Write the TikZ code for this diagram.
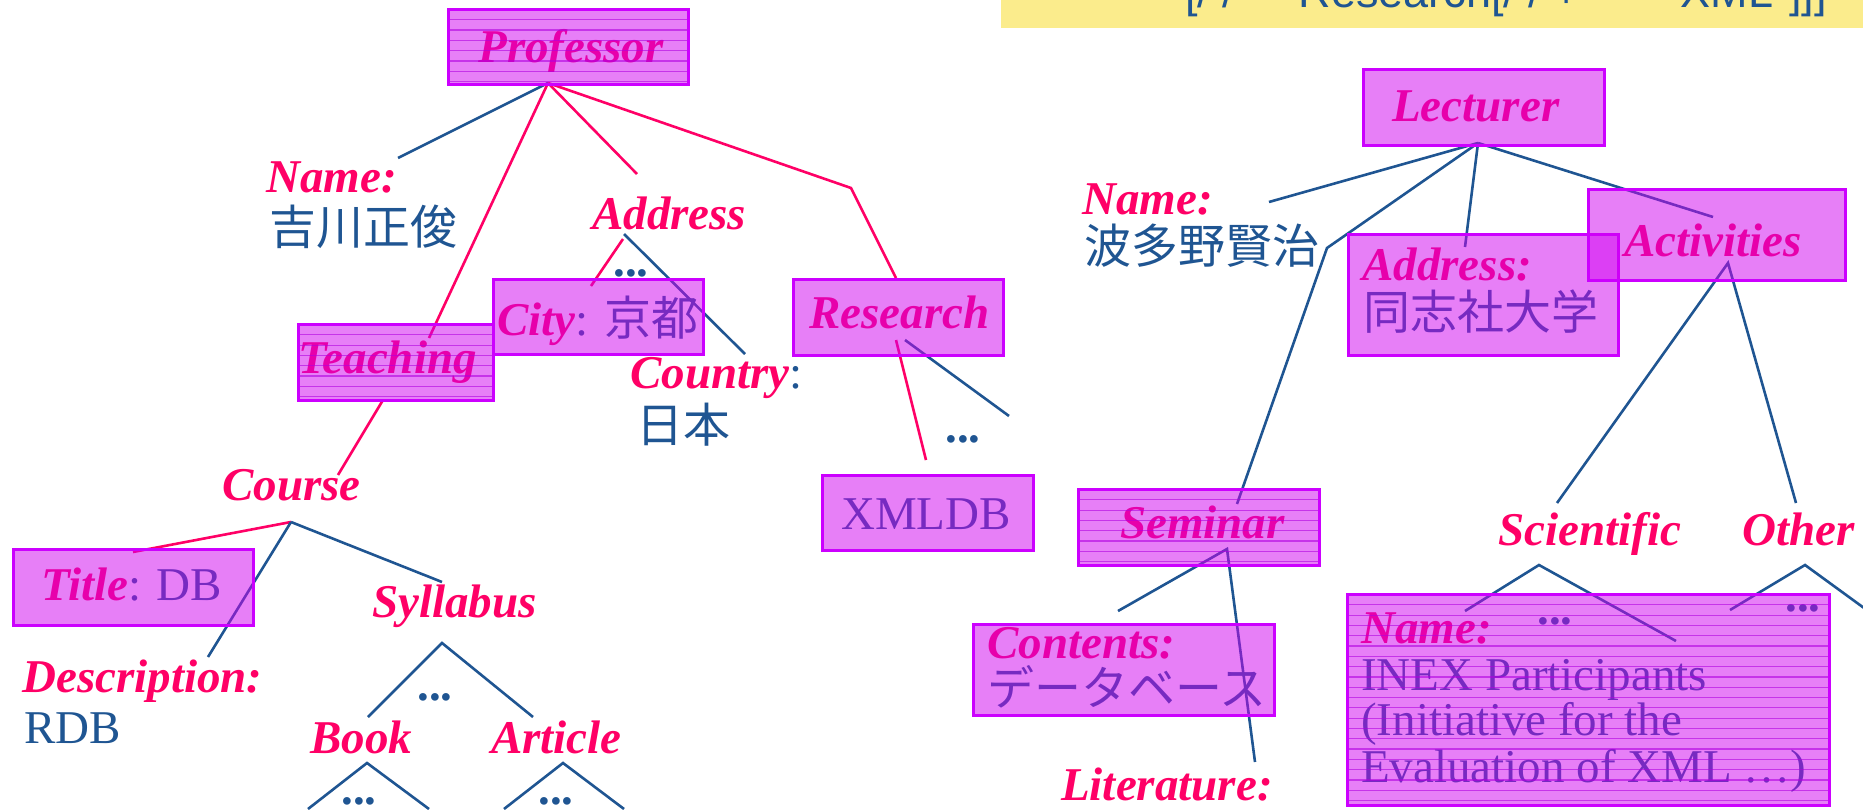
\documentclass[tikz,border=0pt]{standalone}
\usepackage{fontspec}
\setmainfont{Liberation Serif}
\newfontfamily\cjk{Noto Sans CJK JP}
\newfontfamily\arialf{Liberation Sans}
\usetikzlibrary{calc}
\definecolor{lpink}{HTML}{FF0066}
\definecolor{vblue}{HTML}{1F5592}
\definecolor{boxfill}{HTML}{D000F0}
\definecolor{boxline}{HTML}{CC00FF}
\definecolor{hlcol}{HTML}{B000E0}
\definecolor{yel}{HTML}{FBEC8C}
\newcommand{\mylab}[1]{{\color{lpink}\bfseries\itshape #1}}
\newcommand{\myval}[1]{{\color{vblue}#1}}
\begin{document}
\begin{tikzpicture}[x=1pt,y=-1pt,
  txt/.style={inner sep=0pt, anchor=base west, font=\fontsize{47}{46}\selectfont},
  dots/.style={inner sep=0pt, anchor=base, font=\fontsize{47}{46}\selectfont\bfseries, text=vblue},
  bl/.style={draw=vblue, line width=2.6pt},
  pk/.style={draw=lpink, line width=2.6pt},
  box/.style={draw=boxline, line width=3pt, fill=boxfill, fill opacity=0.5, draw opacity=1, inner sep=0pt, anchor=north west},
  hl/.style={path picture={
    \foreach \k in {1,...,21}{
      \draw[hlcol, line width=1.2pt, draw opacity=0.6]
        ([yshift=-\k*10.3pt]path picture bounding box.north west) -- ([yshift=-\k*10.3pt]path picture bounding box.north east);
    }}},
]
\useasboundingbox (0,0) rectangle (1863,810);
\clip (0,0) rectangle (1863,810);

% query strip (cut off at the top edge)
\node[fill=yel, anchor=north west, minimum width=870, minimum height=33, inner sep=0pt] (query) at (1001,-5) {};
\node[inner sep=0pt, anchor=base west, font=\arialf\fontsize{45}{45}\selectfont, text=vblue] (qtext) at (1185,8) {[/ /* *"Research[/ / +\hspace{67pt}*"XML"]]]};

% ---------- left tree texts ----------
\node[txt, anchor=base] (tprof) at (571,63) {\mylab{Professor}};
\node[txt] (tname) at (266,193) {\mylab{Name:}};
\node[txt] (vname) at (269,245) {\myval{\cjk 吉川正俊}};
\node[txt] (taddr) at (592,230) {\mylab{Address}};
\node[dots] (d1) at (631,277) {...};
\node[txt] (tcity) at (497,335) {\mylab{City}\myval{: {\cjk 京都}}};
\node[txt] (tteach) at (298,373) {\mylab{Teaching}};
\node[txt] (tcountry) at (630,388) {\mylab{Country}\myval{:}};
\node[txt] (vcountry) at (636,442) {\myval{\cjk 日本}};
\node[txt] (tres) at (809,328) {\mylab{Research}};
\node[dots] (d2) at (963,442) {...};
\node[txt, anchor=base] (txml) at (926,529) {\myval{XMLDB}};
\node[txt] (tcourse) at (222,500) {\mylab{Course}};
\node[txt] (ttitle) at (41,600) {\mylab{Title}\myval{: DB}};
\node[txt] (tdesc) at (22,692) {\mylab{Description:}};
\node[txt] (vdesc) at (24,743) {\myval{RDB}};
\node[txt] (tsyl) at (372,617) {\mylab{Syllabus}};
\node[dots] (d3) at (435,700) {...};
\node[txt] (tbook) at (310,753) {\mylab{Book}};
\node[txt] (tart) at (491,753) {\mylab{Article}};
\node[dots] (d4) at (359,804) {...};
\node[dots] (d5) at (556,804) {...};

% ---------- right tree texts ----------
\node[txt] (tlect) at (1392,122) {\mylab{Lecturer}};
\node[txt] (tname2) at (1082,215) {\mylab{Name:}};
\node[txt] (vname2) at (1084,264) {\myval{\cjk 波多野賢治}};
\node[txt] (taddr2) at (1362,280) {\mylab{Address:}};
\node[txt] (vaddr2) at (1363,329) {\myval{\cjk 同志社大学}};
\node[txt] (tact) at (1624,257) {\mylab{Activities}};
\node[txt] (tsem) at (1120,538) {\mylab{Seminar}};
\node[txt] (tcont) at (987,658) {\mylab{Contents:}};
\node[txt] (vcont) at (987,705) {\myval{\cjk データベース}};
\node[txt] (tlit) at (1061,800) {\mylab{Literature:}};
\node[txt] (tsci) at (1498,545) {\mylab{Scientific}};
\node[txt] (toth) at (1742,545) {\mylab{Other}};
\node[txt] (tname3) at (1361,643) {\mylab{Name:}};
\node[dots] (d6) at (1555,624) {...};
\node[dots] (d7) at (1803,611) {...};
\node[txt] (vinex1) at (1361,690) {\myval{INEX Participants}};
\node[txt] (vinex2) at (1361,735) {\myval{(Initiative for the}};
\node[txt] (vinex3) at (1361,782) {\myval{Evaluation of XML \dots)}};

% ---------- connector points ----------
\coordinate (p0) at (548,83);
\coordinate (pName) at (398,158);
\coordinate (pTeach) at (429,338);
\coordinate (pAddr) at (637,174);
\coordinate (pResK) at (851,188);
\coordinate (pRes) at (896,278);
\coordinate (aA) at (623,239);
\coordinate (aCity) at (591,286);
\coordinate (aB) at (624,234);
\coordinate (aCountry) at (745,354);
\coordinate (rA) at (896,340);
\coordinate (rXml) at (926,460);
\coordinate (rB) at (905,340);
\coordinate (rDots) at (1009,416);
\coordinate (tchB) at (383,400);
\coordinate (cTop) at (338,475);
\coordinate (c0) at (291,522);
\coordinate (cTitle) at (133,552);
\coordinate (cDesc) at (208,657);
\coordinate (cSyl) at (442,582);
\coordinate (s0) at (442,643);
\coordinate (sBook) at (368,717);
\coordinate (sArt) at (533,717);
\coordinate (b0) at (367,763);
\coordinate (bL) at (308,809);
\coordinate (bR) at (429,809);
\coordinate (a0) at (563,763);
\coordinate (aL) at (504,809);
\coordinate (aR) at (624,809);
\coordinate (l0) at (1478,143);
\coordinate (lName) at (1269,202);
\coordinate (lSemK) at (1327,248);
\coordinate (lSem) at (1237,504);
\coordinate (lAddr) at (1465,247);
\coordinate (lAct) at (1713,217);
\coordinate (act0) at (1728,263);
\coordinate (actSci) at (1557,503);
\coordinate (actOth) at (1796,503);
\coordinate (sem0) at (1227,549);
\coordinate (semCont) at (1118,611);
\coordinate (semLit) at (1255,762);
\coordinate (sci0) at (1539,565);
\coordinate (sciL) at (1465,611);
\coordinate (sciR) at (1676,641);
\coordinate (oth0) at (1805,565);
\coordinate (othL) at (1730,610);
\coordinate (othR) at (1875,616);

% ---------- connectors ----------
\draw[bl] (p0) -- (pName);
\draw[pk] (p0) -- (pTeach);
\draw[pk] (p0) -- (pAddr);
\draw[pk] (p0) -- (pResK) -- (pRes);
\draw[pk] (aA) -- (aCity);
\draw[bl] (aB) -- (aCountry);
\draw[pk] (rA) -- (rXml);
\draw[bl] (rB) -- (rDots);
\draw[pk] (tchB) -- (cTop);
\draw[pk] (c0) -- (cTitle);
\draw[bl] (c0) -- (cDesc);
\draw[bl] (c0) -- (cSyl);
\draw[bl] (sBook) -- (s0) -- (sArt);
\draw[bl] (bL) -- (b0) -- (bR);
\draw[bl] (aL) -- (a0) -- (aR);
\draw[bl] (l0) -- (lName);
\draw[bl] (l0) -- (lSemK) -- (lSem);
\draw[bl] (l0) -- (lAddr);
\draw[bl] (l0) -- (lAct);
\draw[bl] (actSci) -- (act0) -- (actOth);
\draw[bl] (semCont) -- (sem0) -- (semLit);
\draw[bl] (sciL) -- (sci0) -- (sciR);
\draw[bl] (othL) -- (oth0) -- (othR);

% ---------- boxes (translucent, on top) ----------
\node[box, hl, minimum width=240, minimum height=75] (bprof) at (447,8) {};
\node[box, minimum width=210, minimum height=75] (bcity) at (492,278) {};
\node[box, hl, minimum width=195, minimum height=76] (bteach) at (297,323) {};
\node[box, minimum width=210, minimum height=76] (bres) at (792,278) {};
\node[box, minimum width=211, minimum height=75] (bxml) at (821,474) {};
\node[box, minimum width=240, minimum height=76] (btitle) at (12,548) {};
\node[box, minimum width=241, minimum height=76] (blect) at (1362,68) {};
\node[box, minimum width=270, minimum height=121] (baddr) at (1347,233) {};
\node[box, minimum width=257, minimum height=91] (bact) at (1587,188) {};
\node[box, hl, minimum width=241, minimum height=76] (bsem) at (1077,488) {};
\node[box, minimum width=301, minimum height=91] (bcont) at (972,623) {};
\node[box, hl, minimum width=482, minimum height=211] (binex) at (1346,593) {};
\end{tikzpicture}
\end{document}
